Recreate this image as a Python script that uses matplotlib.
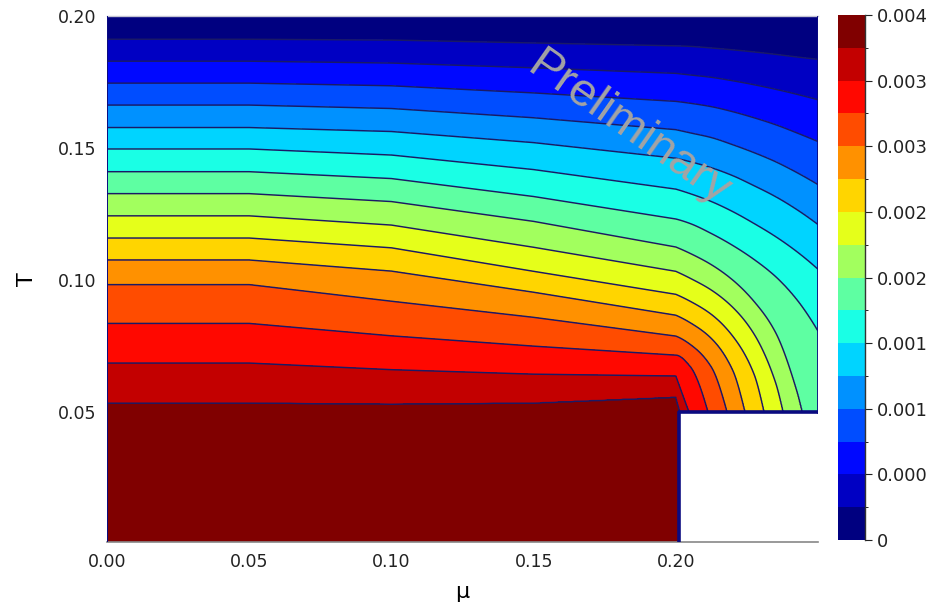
import numpy as np
import matplotlib
matplotlib.use("Agg")
import matplotlib.pyplot as plt
from matplotlib.colors import ListedColormap, BoundaryNorm

# ---- data -----------------------------------------------------------------
# contour levels of the plotted quantity (16 bands from 0 to 0.004)
levels = np.linspace(0.0, 0.004, 17)
cbar_ticks = [0.0, 0.0005, 0.001, 0.0015, 0.002, 0.0025, 0.003, 0.0035, 0.004]
cbar_ticklabels = ["0", "0.000", "0.001", "0.001", "0.002", "0.002",
                   "0.003", "0.003", "0.004"]

mu_ticks = [0.0, 0.05, 0.10, 0.15, 0.20]
mu_ticklabels = ["0.00", "0.05", "0.10", "0.15", "0.20"]
T_ticks = [0.05, 0.10, 0.15, 0.20]
T_ticklabels = ["0.05", "0.10", "0.15", "0.20"]

# chemical potential nodes at which the isolines are tabulated
mu_nodes = [0.0, 0.05, 0.10, 0.15, 0.20, 0.205, 0.2125, 0.22, 0.2275,
            0.235, 0.2425, 0.25]
# isolines bend smoothly beyond this node
mu_bend = 0.20

# temperature of the isolines (levels 1..15) at the nodes; nan where the
# isoline has already run into the lower edge of the data (T = T_gap)
nan = np.nan
iso_T = [
    [0.1912, 0.1912, 0.1909, 0.1898, 0.1887, 0.1885, 0.1879, 0.1872, 0.1864, 0.1855, 0.1845, 0.1836],
    [0.1829, 0.1829, 0.1822, 0.1804, 0.1783, 0.1777, 0.1768, 0.1755, 0.1740, 0.1723, 0.1704, 0.1683],
    [0.1746, 0.1746, 0.1736, 0.1709, 0.1677, 0.1670, 0.1657, 0.1638, 0.1615, 0.1589, 0.1558, 0.1525],
    [0.1663, 0.1663, 0.1650, 0.1615, 0.1570, 0.1558, 0.1540, 0.1513, 0.1483, 0.1449, 0.1408, 0.1362],
    [0.1578, 0.1578, 0.1563, 0.1521, 0.1462, 0.1449, 0.1426, 0.1396, 0.1358, 0.1317, 0.1268, 0.1211],
    [0.1497, 0.1497, 0.1474, 0.1419, 0.1345, 0.1328, 0.1298, 0.1260, 0.1215, 0.1166, 0.1109, 0.1042],
    [0.1411, 0.1411, 0.1385, 0.1317, 0.1232, 0.1215, 0.1177, 0.1132, 0.1079, 0.1015, 0.0928, 0.0808],
    [0.1328, 0.1328, 0.1298, 0.1223, 0.1126, 0.1102, 0.1059, 0.1001, 0.0920, 0.0804, 0.0581, nan],
    [0.1244, 0.1244, 0.1209, 0.1125, 0.1034, 0.1008, 0.0963, 0.0898, 0.0797, 0.0615, nan, nan],
    [0.1160, 0.1160, 0.1123, 0.1034, 0.0947, 0.0921, 0.0871, 0.0789, 0.0645, nan, nan, nan],
    [0.1077, 0.1077, 0.1035, 0.0955, 0.0868, 0.0840, 0.0780, 0.0660, nan, nan, nan, nan],
    [0.0984, 0.0984, 0.0921, 0.0860, 0.0789, 0.0758, 0.0672, nan, nan, nan, nan, nan],
    [0.0837, 0.0837, 0.0790, 0.0751, 0.0717, 0.0675, nan, nan, nan, nan, nan, nan],
    [0.0687, 0.0687, 0.0662, 0.0645, 0.0638, nan, nan, nan, nan, nan, nan, nan],
    [0.0536, 0.0536, 0.0532, 0.0536, 0.0558, nan, nan, nan, nan, nan, nan, nan],
]
# chemical potential where each isoline meets the lower data edge
iso_end_mu = [nan, nan, nan, nan, nan, nan, nan,
              0.2444, 0.2377, 0.2310, 0.2243, 0.2180, 0.2113, 0.2046, 0.2015]

# domain of the data; no data for mu > mu_gap and T < T_gap
mu_max, T_min, T_max = 0.25, 0.001, 0.20
mu_gap, T_gap = 0.201, 0.05
value_top, value_floor = 0.0, 0.0039


# ---- helpers ----------------------------------------------------------------
def pchip(x, y, xq):
    """Monotone piecewise-cubic Hermite curve through (x, y)."""
    x = np.asarray(x, float)
    y = np.asarray(y, float)
    xq = np.asarray(xq, float)
    if x.size < 3:
        return np.interp(xq, x, y)
    h = np.diff(x)
    d = np.diff(y) / h
    n = x.size
    m = np.zeros(n)
    for i in range(1, n - 1):
        if d[i - 1] * d[i] > 0:
            w1 = 2 * h[i] + h[i - 1]
            w2 = h[i] + 2 * h[i - 1]
            m[i] = (w1 + w2) / (w1 / d[i - 1] + w2 / d[i])

    def end_slope(h0, h1, d0, d1):
        s = ((2 * h0 + h1) * d0 - h0 * d1) / (h0 + h1)
        if np.sign(s) != np.sign(d0):
            return 0.0
        if np.sign(d0) != np.sign(d1) and abs(s) > 3 * abs(d0):
            return 3 * d0
        return s

    m[0] = end_slope(h[0], h[1], d[0], d[1])
    m[-1] = end_slope(h[-1], h[-2], d[-1], d[-2])
    i = np.clip(np.searchsorted(x, xq) - 1, 0, n - 2)
    t = (xq - x[i]) / h[i]
    h00 = (1 + 2 * t) * (1 - t) ** 2
    h10 = t * (1 - t) ** 2
    h01 = t ** 2 * (3 - 2 * t)
    h11 = t ** 2 * (t - 1)
    return h00 * y[i] + h10 * h[i] * m[i] + h01 * y[i + 1] + h11 * h[i] * m[i + 1]


nodes = np.asarray(mu_nodes)
iso = np.asarray(iso_T, dtype=float)
ends = np.asarray(iso_end_mu, dtype=float)
iso_levels = levels[1:-1]

mu_grid = np.linspace(0.0, mu_max, 1001)
T_grid = np.linspace(T_min, T_max, 801)


def isoline(k):
    """Temperature of isoline k on mu_grid."""
    row = iso[k]
    ok = ~np.isnan(row)
    xp, fp = nodes[ok], row[ok]
    if not np.isnan(ends[k]):
        xp = np.append(xp, ends[k])
        fp = np.append(fp, T_gap)
    out = np.interp(mu_grid, xp, fp)
    right = xp >= mu_bend
    sel = (mu_grid >= mu_bend) & (mu_grid <= xp[-1])
    out[sel] = pchip(xp[right], fp[right], mu_grid[sel])
    if not np.isnan(ends[k]):
        # continue below the data edge (hidden by the mask)
        past = mu_grid > ends[k]
        out[past] = T_gap - 0.5 * (mu_grid[past] - ends[k])
    return out


crossings = np.array([isoline(k) for k in range(len(iso_levels))])
Z = np.empty((T_grid.size, mu_grid.size))
for j in range(mu_grid.size):
    xp = np.concatenate(([0.0], crossings[::-1, j], [T_max]))
    fp = np.concatenate(([value_floor], iso_levels[::-1], [value_top]))
    Z[:, j] = np.interp(T_grid, xp, fp)

MU, TT = np.meshgrid(mu_grid, T_grid)
Z = np.ma.masked_where((MU > mu_gap) & (TT < T_gap), Z)

# ---- colours: classic (MATLAB-style) jet, one colour per band ------------
x = np.linspace(0.0, 1.0, len(levels) - 1)
jet_r = np.clip(1.5 - np.abs(4 * x - 3), 0, 1)
jet_g = np.clip(1.5 - np.abs(4 * x - 2), 0, 1)
jet_b = np.clip(1.5 - np.abs(4 * x - 1), 0, 1)
cmap = ListedColormap(np.column_stack([jet_r, jet_g, jet_b]))
norm = BoundaryNorm(levels, cmap.N)
navy = "#1a1a66"
edge_blue = "#0a0a80"

# ---- figure ---------------------------------------------------------------
plt.rcParams["font.family"] = ["DejaVu Sans"]
fig = plt.figure(figsize=(9.48, 6.06), dpi=100)
ax = fig.add_axes([0.1129, 0.1056, 0.75, 0.868])
cax = fig.add_axes([0.884, 0.1089, 0.0285, 0.8663])

cf = ax.contourf(mu_grid, T_grid, Z, levels=levels, cmap=cmap, norm=norm)
ax.contour(mu_grid, T_grid, Z, levels=iso_levels, colors=navy,
           linewidths=1.05)

# edges of the data domain
ax.plot([mu_gap, mu_gap, mu_max], [T_min, T_gap, T_gap], color=edge_blue,
        lw=2.6, solid_joinstyle="round", solid_capstyle="butt", zorder=3)
ax.plot([mu_max, mu_max], [T_gap, T_max], color=edge_blue, lw=2.0, zorder=3)
ax.plot([0.0, 0.0], [T_min, T_max], color=edge_blue, lw=1.4, zorder=3)

ax.set_xlim(0.0, mu_max)
ax.set_ylim(T_min, T_max)
ax.set_xticks(mu_ticks)
ax.set_xticklabels(mu_ticklabels)
ax.set_yticks(T_ticks)
ax.set_yticklabels(T_ticklabels)
ax.tick_params(length=0, labelsize=12.5, pad=8, colors="#222222")
for side in ("right", "left"):
    ax.spines[side].set_visible(False)
ax.spines["top"].set_color("#c4c4d4")
ax.spines["top"].set_linewidth(1.0)
ax.spines["bottom"].set_color("#888888")
ax.spines["bottom"].set_linewidth(1.2)
ax.set_xlabel("μ", fontsize=16, labelpad=8)
ax.set_ylabel("T", fontsize=16, labelpad=15)

ax.text(0.733, 0.786, "Preliminary", transform=ax.transAxes,
        rotation=-35, fontsize=34, color="#a4a4a4", ha="center",
        va="center", family="Liberation Sans", zorder=4)

cb = fig.colorbar(cf, cax=cax, ticks=cbar_ticks)
cb.ax.set_yticklabels(cbar_ticklabels)
cb.outline.set_visible(False)
cb.ax.tick_params(length=5, width=0.8, labelsize=13, colors="#222222")
cb.ax.axvline(1.0, color="#333333", lw=1.0, clip_on=False)

fig.savefig("out.png", dpi=100)
